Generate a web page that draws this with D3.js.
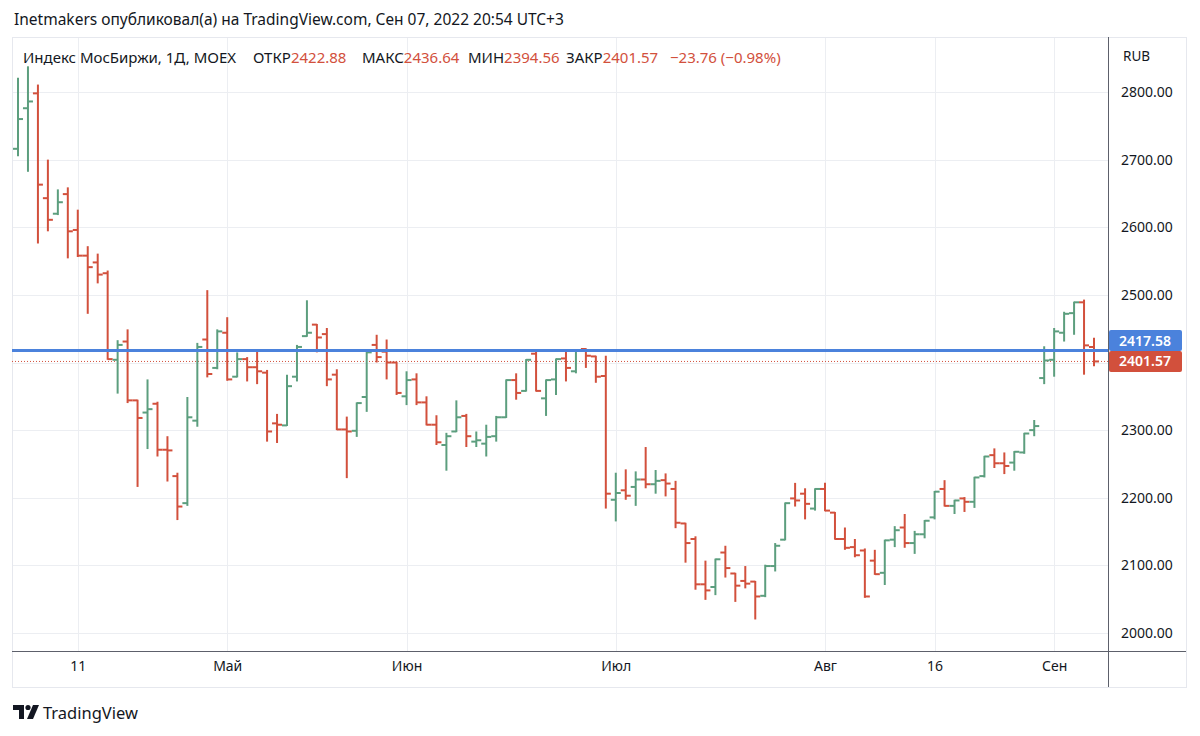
<!DOCTYPE html>
<html lang="ru">
<head>
<meta charset="UTF-8">
<title>Индекс МосБиржи</title>
<script src="https://cdn.jsdelivr.net/npm/d3@7/dist/d3.min.js"></script>
<style>
  body { margin: 0; background: #fff; }
  text { font-family: "Noto Sans", "Open Sans", sans-serif; fill: #131722; }
</style>
</head>
<body>
<script>

    // trading days Apr 1 - Sep 7 2022 (weekdays minus MOEX holidays)
    var holidays = ["2022-05-02", "2022-05-03", "2022-05-09", "2022-05-10", "2022-06-13"];
    var fmt = d3.timeFormat("%Y-%m-%d");
    var dates = d3.timeDays(new Date(2022, 3, 1), new Date(2022, 8, 8))
        .filter(function (d) { return d.getDay() !== 0 && d.getDay() !== 6; })
        .map(fmt)
        .filter(function (d) { return holidays.indexOf(d) < 0; });

    var open = [2716, 2776, 2798, 2643, 2620, 2649, 2596, 2558, 2548, 2532,
        2404, 2431, 2344, 2326, 2339, 2271, 2232, 2192, 2314, 2434,
        2392, 2444, 2379, 2405, 2393, 2385, 2310, 2307, 2379, 2439,
        2456, 2442, 2382, 2301, 2299, 2349, 2426, 2416, 2400, 2350,
        2375, 2341, 2308, 2278, 2298, 2321, 2283, 2280, 2291, 2319,
        2374, 2358, 2413, 2347, 2375, 2406, 2387, 2420, 2409, 2380,
        2197, 2211, 2216, 2227, 2220, 2226, 2213, 2162, 2139, 2072,
        2068, 2119, 2088, 2077, 2076, 2055, 2099, 2138, 2199, 2206,
        2184, 2213, 2178, 2139, 2127, 2122, 2107, 2089, 2138, 2156,
        2133, 2146, 2171, 2213, 2188, 2199, 2194, 2232, 2263, 2251,
        2252, 2267, 2300, 2377, 2404, 2444, 2473, 2489, 2422.88];
    var high = [2821, 2838, 2811, 2700, 2656, 2659, 2626, 2572, 2561, 2536,
        2433, 2449, 2345, 2375, 2342, 2291, 2237, 2349, 2429, 2507,
        2449, 2467, 2415, 2408, 2416, 2389, 2324, 2382, 2426, 2492,
        2457, 2451, 2390, 2320, 2341, 2416, 2441, 2434, 2401, 2387,
        2384, 2350, 2322, 2296, 2344, 2324, 2298, 2308, 2321, 2375,
        2384, 2405, 2416, 2375, 2406, 2416, 2419, 2421, 2410, 2410,
        2237, 2242, 2239, 2275, 2241, 2236, 2225, 2163, 2143, 2107,
        2110, 2129, 2089, 2099, 2077, 2101, 2133, 2193, 2222, 2214,
        2214, 2222, 2179, 2156, 2139, 2125, 2123, 2138, 2158, 2176,
        2151, 2167, 2210, 2226, 2197, 2201, 2231, 2262, 2273, 2267,
        2269, 2296, 2315, 2424, 2451, 2475, 2490, 2493, 2436.64];
    var low = [2705, 2682, 2576, 2594, 2618, 2554, 2556, 2472, 2517, 2404,
        2354, 2340, 2216, 2272, 2261, 2224, 2167, 2188, 2305, 2378,
        2390, 2373, 2378, 2372, 2368, 2283, 2281, 2306, 2372, 2438,
        2415, 2365, 2300, 2229, 2290, 2327, 2400, 2375, 2352, 2337,
        2337, 2307, 2278, 2240, 2297, 2275, 2275, 2261, 2283, 2318,
        2345, 2357, 2357, 2321, 2352, 2372, 2384, 2392, 2370, 2184,
        2165, 2197, 2188, 2214, 2206, 2202, 2155, 2104, 2064, 2049,
        2056, 2082, 2046, 2066, 2020, 2053, 2091, 2137, 2187, 2168,
        2181, 2180, 2138, 2123, 2112, 2052, 2086, 2071, 2127, 2126,
        2117, 2140, 2168, 2187, 2176, 2179, 2185, 2230, 2244, 2235,
        2240, 2265, 2291, 2368, 2379, 2431, 2441, 2382, 2394.56];
    var close = [2760, 2786, 2663, 2611, 2637, 2594, 2558, 2541, 2530, 2405,
        2426, 2344, 2318, 2331, 2271, 2270, 2187, 2319, 2423, 2383,
        2446, 2375, 2405, 2393, 2387, 2298, 2308, 2365, 2423, 2444,
        2437, 2375, 2301, 2298, 2340, 2415, 2408, 2400, 2355, 2374,
        2341, 2308, 2282, 2291, 2319, 2291, 2285, 2290, 2319, 2374,
        2355, 2404, 2358, 2374, 2405, 2392, 2418, 2410, 2379, 2206,
        2207, 2203, 2227, 2220, 2225, 2221, 2163, 2133, 2072, 2063,
        2109, 2096, 2070, 2073, 2054, 2099, 2129, 2192, 2196, 2191,
        2213, 2181, 2139, 2126, 2115, 2054, 2087, 2137, 2152, 2133,
        2146, 2166, 2209, 2188, 2196, 2194, 2230, 2261, 2251, 2247,
        2268, 2295, 2306, 2403, 2446, 2472, 2489, 2425.33, 2401.57];

    var priceTicks = [2000, 2100, 2200, 2300, 2400, 2500, 2600, 2700, 2800];
    var timeTicks = [["2022-04-11", "11"], ["2022-05-04", "Май"], ["2022-06-01", "Июн"],
        ["2022-07-01", "Июл"], ["2022-08-01", "Авг"], ["2022-08-16", "16"], ["2022-09-01", "Сен"]];
    var hline = 2417.58;

    var bars = dates.map(function (d, i) {
        return {date: d, o: open[i], h: high[i], l: low[i], c: close[i]};
    });
    var last = bars[bars.length - 1];

    var width = 1200, height = 736;
    var pL = 12, pR = 1108, pT = 37, pB = 651, frameR = 1186, frameB = 687;
    var up = "#5c9e7e", down = "#d2503c", blue = "#4b82dc";

    var svg = d3.select("body").append("svg")
        .attr("width", width)
        .attr("height", height);

    svg.append("rect").attr("width", width).attr("height", height).attr("fill", "#fff");

    var x = d3.scalePoint().domain(dates).range([18, 1094]);
    var y = d3.scaleLinear().domain([2000, 2800]).range([633, 92]);

    svg.append("defs").append("clipPath").attr("id", "plot")
        .append("rect").attr("x", pL).attr("y", pT)
        .attr("width", pR - pL).attr("height", pB - pT);

    // grid
    var grid = svg.append("g").attr("clip-path", "url(#plot)");
    grid.selectAll(".hg").data(priceTicks).enter().append("line")
        .attr("x1", pL).attr("x2", pR)
        .attr("y1", function (d) { return Math.round(y(d)) + 0.5; })
        .attr("y2", function (d) { return Math.round(y(d)) + 0.5; })
        .attr("stroke", "#eceef2");
    grid.selectAll(".vg").data(timeTicks).enter().append("line")
        .attr("x1", function (d) { return Math.round(x(d[0])) + 0.5; })
        .attr("x2", function (d) { return Math.round(x(d[0])) + 0.5; })
        .attr("y1", pT).attr("y2", pB)
        .attr("stroke", "#eceef2");

    // frame
    svg.append("rect").attr("x", pL + 0.5).attr("y", pT + 0.5)
        .attr("width", frameR - pL).attr("height", frameB - pT)
        .attr("fill", "none").attr("stroke", "#e6e8ee");

    var plot = svg.append("g").attr("clip-path", "url(#plot)");

    // last close dotted line
    plot.append("line")
        .attr("x1", pL).attr("x2", pR)
        .attr("y1", y(last.c)).attr("y2", y(last.c))
        .attr("stroke", down).attr("stroke-width", 1).attr("stroke-dasharray", "1,2");

    // OHLC bars
    var g = plot.selectAll(".bar").data(bars).enter().append("g")
        .attr("stroke", function (d) { return d.c >= d.o ? up : down; })
        .attr("stroke-width", 2);
    g.append("line")
        .attr("x1", function (d) { return x(d.date); })
        .attr("x2", function (d) { return x(d.date); })
        .attr("y1", function (d) { return y(d.h); })
        .attr("y2", function (d) { return y(d.l); });
    g.append("line")
        .attr("x1", function (d) { return x(d.date) - 5; })
        .attr("x2", function (d) { return x(d.date); })
        .attr("y1", function (d) { return y(d.o); })
        .attr("y2", function (d) { return y(d.o); });
    g.append("line")
        .attr("x1", function (d) { return x(d.date); })
        .attr("x2", function (d) { return x(d.date) + 5; })
        .attr("y1", function (d) { return y(d.c); })
        .attr("y2", function (d) { return y(d.c); });

    // horizontal level
    plot.append("line")
        .attr("x1", pL).attr("x2", pR)
        .attr("y1", y(hline)).attr("y2", y(hline))
        .attr("stroke", blue).attr("stroke-width", 3);

    // axes lines
    svg.append("line").attr("x1", pR + 0.5).attr("x2", pR + 0.5)
        .attr("y1", pT).attr("y2", frameB).attr("stroke", "#5d606b");
    svg.append("line").attr("x1", pL).attr("x2", frameR)
        .attr("y1", pB + 0.5).attr("y2", pB + 0.5).attr("stroke", "#5d606b");

    // price axis
    var yAxis = d3.axisRight(y).tickValues(priceTicks).tickSize(0).tickPadding(13)
        .tickFormat(d3.format(".2f"));
    var ya = svg.append("g").attr("transform", "translate(" + pR + ",0)").call(yAxis);
    ya.select(".domain").remove();
    ya.selectAll("text").attr("font-size", 14).attr("fill", "#131722")
        .attr("font-family", "Noto Sans");

    svg.append("text").attr("x", 1123).attr("y", 61).attr("font-size", 13.5).text("RUB");

    // time axis
    var xAxis = d3.axisBottom(x).tickValues(timeTicks.map(function (d) { return d[0]; }))
        .tickSize(0).tickPadding(10)
        .tickFormat(function (d) {
            return timeTicks.find(function (t) { return t[0] === d; })[1];
        });
    var xa = svg.append("g").attr("transform", "translate(0," + pB + ")").call(xAxis);
    xa.select(".domain").remove();
    xa.selectAll("text").attr("font-size", 14).attr("fill", "#131722")
        .attr("font-family", "Noto Sans");

    // price labels
    function priceLabel(cy, color, value) {
        svg.append("rect").attr("x", pR + 1).attr("y", cy - 10.5)
            .attr("width", 73).attr("height", 21).attr("rx", 2).attr("fill", color);
        svg.append("text").attr("x", pR + 37).attr("y", cy + 5)
            .attr("text-anchor", "middle").attr("font-size", 14).attr("font-weight", 600)
            .style("fill", "#fff").text(d3.format(".2f")(value));
    }
    priceLabel(y(hline) - 10, blue, hline);
    priceLabel(y(last.c), down, last.c);

    // header
    svg.append("text").attr("x", 14).attr("y", 25).attr("font-size", 15.5)
        .text("Inetmakers опубликовал(а) на TradingView.com, Сен 07, 2022 20:54 UTC+3");

    var legend = svg.append("text").attr("y", 63).attr("font-size", 15);
    var parts = [
        ["Индекс МосБиржи, 1Д, MOEX", "#131722", 23],
        ["ОТКР", "#131722", 253], [d3.format(".2f")(last.o), down, null],
        ["МАКС", "#131722", 362], [d3.format(".2f")(last.h), down, null],
        ["МИН", "#131722", 468], [d3.format(".2f")(last.l), down, null],
        ["ЗАКР", "#131722", 566], [d3.format(".2f")(last.c), down, null],
        ["−23.76 (−0.98%)", down, 670]
    ];
    parts.forEach(function (p) {
        var t = legend.append("tspan").style("fill", p[1]).text(p[0]);
        if (p[2] !== null) t.attr("x", p[2]);
    });

    // logo
    var logo = svg.append("g").attr("fill", "#131722");
    logo.append("path").attr("d", "M13 705 h11 v14 h-5 v-9 h-6z");
    logo.append("circle").attr("cx", 28).attr("cy", 707.5).attr("r", 2.6);
    logo.append("path").attr("d", "M33 705 h6 l-6 14 h-6z");
    svg.append("text").attr("x", 43).attr("y", 719).attr("font-size", 16.5)
        .text("TradingView");

</script>
</body>
</html>
